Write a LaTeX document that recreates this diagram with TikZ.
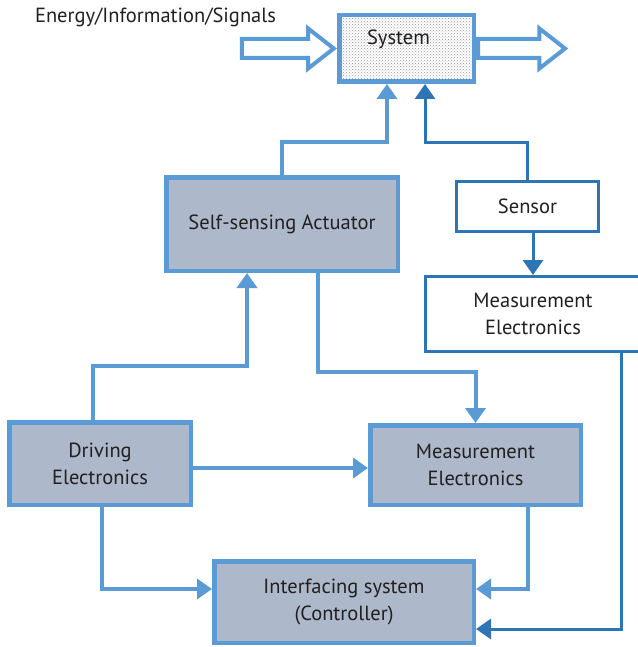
\documentclass[tikz,border=0pt]{standalone}
\usepackage{fontspec}
\setmainfont{PT Sans}
\usetikzlibrary{arrows.meta}
\usetikzlibrary{shapes.arrows}
\usetikzlibrary{patterns}
\definecolor{lightblue}{RGB}{91,155,213}
\definecolor{darkblue}{RGB}{46,117,182}
\definecolor{boxgray}{RGB}{173,185,202}
\definecolor{textgray}{RGB}{35,31,32}
\tikzset{
    graybox/.style={draw=lightblue,line width=4.5pt,fill=boxgray,align=center,text=textgray,inner sep=0pt},
    whitebox/.style={draw=darkblue,line width=3pt,fill=white,align=center,text=textgray,inner sep=0pt},
    sysbox/.style={draw=lightblue,line width=4.5pt,pattern=crosshatch dots,pattern color=gray!80,text=textgray,inner sep=0pt},
    bigarrow/.style={single arrow,draw=lightblue,line width=4pt,fill=white,minimum width=36pt,single arrow head extend=10.5pt,single arrow tip angle=76,inner xsep=0pt,inner ysep=7.5pt},
    lline/.style={lightblue,line width=4pt},
    larrow/.style={lline,-{Triangle[width=20pt,length=15pt]}},
    dline/.style={darkblue,line width=3pt},
    darrow/.style={dline,-{Triangle[width=20pt,length=15pt]}}
}

\begin{document}
\begin{tikzpicture}[x=1pt,y=-1pt,font=\fontsize{20.5}{27}\selectfont]
                    \useasboundingbox (0,0) rectangle (637,647);

                    \node[sysbox,minimum width=134.5pt,minimum height=66.5pt,text height=13pt,text depth=20pt] (sys) at (406.5,48.5) {System\hspace*{16pt}};
                    \node[bigarrow,minimum height=92pt,anchor=tip] (inarrow) at (sys.west) {};
                    \node[bigarrow,minimum height=87pt,anchor=tail] (outarrow) at (sys.east) {};
                    \node[text=textgray] (sig) at (155.5,17) {Energy/Information/Signals};

                    \node[graybox,minimum width=231.5pt,minimum height=93.5pt] (act) at (282,224) {Self-sensing Actuator};
                    \node[whitebox,minimum width=142pt,minimum height=50pt] (sensor) at (527.5,206.5) {Sensor};
                    \node[whitebox,minimum width=215pt,minimum height=75pt] (mel) at (533,314) {Measurement\\Electronics};
                    \node[graybox,minimum width=181.5pt,minimum height=82.5pt] (drv) at (100,463.5) {Driving\\Electronics};
                    \node[graybox,minimum width=210.5pt,minimum height=79.5pt] (meas) at (475.5,465) {Measurement\\Electronics};
                    \node[graybox,minimum width=259.5pt,minimum height=81.5pt] (ctrl) at (344,602) {Interfacing system\\(Controller)};

                    \draw[larrow] (act.north) -- ++(0,-33) -| ([xshift=-19.5pt]sys.south);
                    \draw[darrow] (sensor.north) -- ++(0,-37) -| ([xshift=18.5pt]sys.south);
                    \draw[darrow] (sensor.south -| mel.north) -- (mel.north);
                    \draw[darrow] ([xshift=88pt]mel.south) |- ([yshift=-27pt]ctrl.east);
                    \draw[larrow] ([xshift=-7pt]drv.north) -- ++(0,-54) -| ([xshift=-35pt]act.south);
                    \draw[larrow] ([xshift=36pt]act.south) -- ++(0,99) -| (meas.north);
                    \draw[larrow] ([yshift=-4.5pt]drv.east) -- ([yshift=-3pt]meas.west);
                    \draw[larrow] ([xshift=2pt]drv.south) |- ([yshift=13pt]ctrl.west);
                    \draw[larrow] ([xshift=52.5pt]meas.south) |- ([yshift=13pt]ctrl.east);
\end{tikzpicture}
\end{document}
